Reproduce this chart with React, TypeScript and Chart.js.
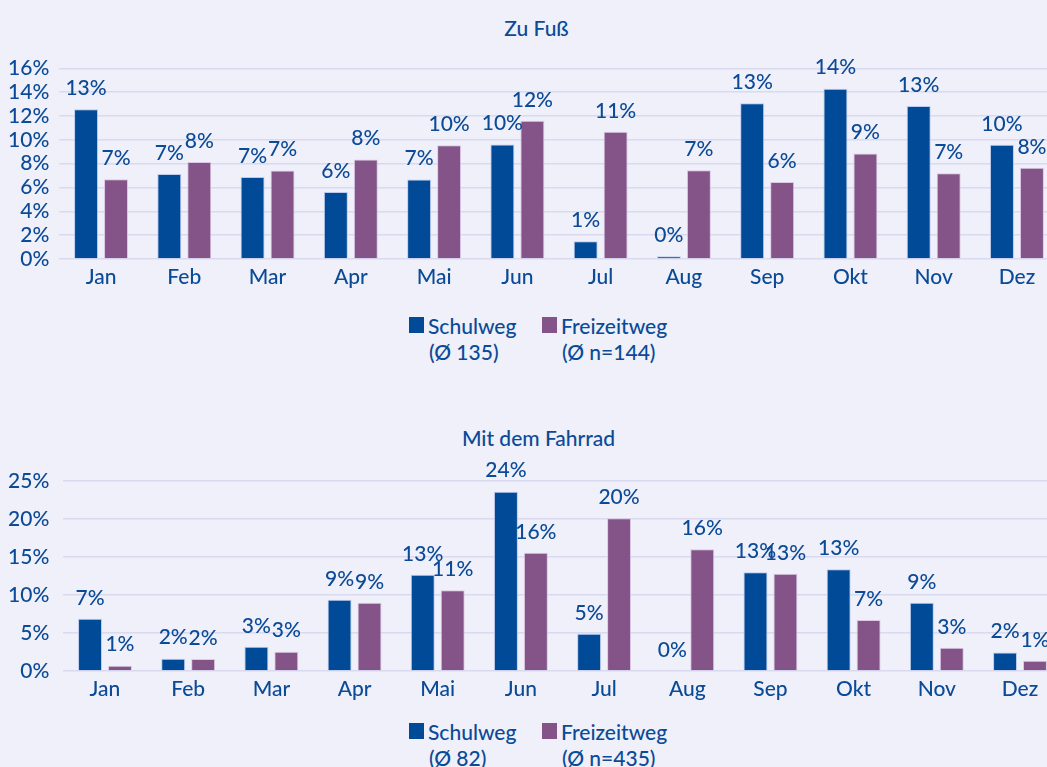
import React, { useEffect, useRef } from 'react';
import { Chart, registerables } from 'chart.js';

Chart.register(...registerables);

// ---------- data ----------
const months = ['Jan', 'Feb', 'Mar', 'Apr', 'Mai', 'Jun', 'Jul', 'Aug', 'Sep', 'Okt', 'Nov', 'Dez'];

const fussSchulweg = [12.57, 7.14, 6.89, 5.63, 6.67, 9.61, 1.49, 0.23, 13.06, 14.29, 12.83, 9.58];
const fussFreizeitweg = [6.7, 8.13, 7.43, 8.35, 9.55, 11.6, 10.67, 7.45, 6.45, 8.86, 7.2, 7.65];

const radSchulweg = [6.87, 1.62, 3.19, 9.37, 12.65, 23.6, 4.9, 0, 13.0, 13.4, 8.97, 2.45];
const radFreizeitweg = [0.7, 1.58, 2.54, 8.97, 10.64, 15.55, 20.1, 16.03, 12.79, 6.7, 3.06, 1.35];

const seriesNames = ['Schulweg', 'Freizeitweg'];
const fussLegendSub = ['(Ø 135)', '(Ø n=144)'];
const radLegendSub = ['(Ø 82)', '(Ø n=435)'];

// ---------- style ----------
const BG = '#eff0f9';
const TEXT = '#0b4a97';
const BLUE = '#004a98';
const PURPLE = '#845489';
const GRID = '#d9daef';
const FONT = 'Lato, "Open Sans", sans-serif';

const valueLabels = {
  id: 'valueLabels',
  afterDatasetsDraw(chart: any) {
    const ctx = chart.ctx;
    ctx.save();
    ctx.font = `500 21px ${FONT}`;
    ctx.fillStyle = TEXT;
    ctx.textAlign = 'center';
    ctx.textBaseline = 'middle';
    chart.data.datasets.forEach((ds: any, i: number) => {
      const meta = chart.getDatasetMeta(i);
      meta.data.forEach((el: any, j: number) => {
        const v = ds.data[j];
        ctx.fillText(Math.round(v) + '%', el.x, el.y - 21);
      });
    });
    ctx.restore();
  },
};

type PanelProps = {
  top: number;
  width: number;
  height: number;
  padTop: number;
  padRight: number;
  axisW: number;
  tickPad: number;
  a: number[];
  b: number[];
  max: number;
  step: number;
};

function Panel(p: PanelProps) {
  const ref = useRef<HTMLCanvasElement>(null);
  useEffect(() => {
    const chart = new Chart(ref.current as HTMLCanvasElement, {
      type: 'bar',
      data: {
        labels: months,
        datasets: [
          {
            label: seriesNames[0],
            data: p.a,
            backgroundColor: BLUE,
            borderColor: 'rgba(170,190,235,0.75)',
            borderWidth: 1,
            categoryPercentage: 0.72,
            barPercentage: 0.8,
          },
          {
            label: seriesNames[1],
            data: p.b,
            backgroundColor: PURPLE,
            borderColor: 'rgba(215,185,220,0.75)',
            borderWidth: 1,
            categoryPercentage: 0.72,
            barPercentage: 0.8,
          },
        ],
      },
      options: {
        animation: false,
        responsive: false,
        devicePixelRatio: 1,
        layout: { padding: { top: p.padTop, right: p.padRight, left: 0, bottom: 0 } },
        plugins: {
          legend: { display: false },
          title: { display: false },
          tooltip: { enabled: false },
        },
        scales: {
          x: {
            grid: { display: false, drawTicks: false },
            border: { display: false },
            ticks: { color: TEXT, font: { family: FONT, size: 21, weight: '500' }, padding: 6 },
            afterFit: (s: any) => {
              s.height = 40;
            },
          },
          y: {
            min: 0,
            max: p.max,
            grid: { color: GRID, lineWidth: 1.5, drawTicks: false },
            border: { display: false },
            ticks: {
              stepSize: p.step,
              autoSkip: false,
              color: TEXT,
              font: { family: FONT, size: 21, weight: '500' },
              padding: p.tickPad,
              callback: (v: any) => v + '%',
            },
            afterFit: (s: any) => {
              s.width = p.axisW;
            },
          },
        },
      },
      plugins: [valueLabels],
    });
    return () => chart.destroy();
  }, []);
  return (
    <canvas
      ref={ref}
      width={p.width}
      height={p.height}
      style={{ position: 'absolute', left: 0, top: p.top, width: p.width, height: p.height }}
    />
  );
}

function Title({ text, x, y }: { text: string; x: number; y: number }) {
  return (
    <div
      style={{
        position: 'absolute',
        left: x,
        top: y,
        transform: 'translate(-50%, -50%)',
        whiteSpace: 'nowrap',
        lineHeight: 1,
        fontFamily: FONT,
        fontSize: 21,
        fontWeight: 500,
        color: TEXT,
      }}
    >
      {text}
    </div>
  );
}

function Legend({ y, subs }: { y: number; subs: string[] }) {
  const items = [
    { color: BLUE, box: 408.5, text: 428, name: seriesNames[0], sub: subs[0] },
    { color: PURPLE, box: 541.5, text: 561, name: seriesNames[1], sub: subs[1] },
  ];
  const txt = (t: string, x: number, cy: number) => (
    <div
      style={{
        position: 'absolute',
        left: x,
        top: cy,
        transform: 'translateY(-50%)',
        whiteSpace: 'nowrap',
        lineHeight: 1,
        fontFamily: FONT,
        fontSize: 21,
        fontWeight: 500,
        color: TEXT,
      }}
    >
      {t}
    </div>
  );
  return (
    <>
      {items.map((it, i) => (
        <React.Fragment key={i}>
          <div
            style={{
              position: 'absolute',
              left: it.box,
              top: y - 8,
              width: 15.5,
              height: 15.5,
              background: it.color,
            }}
          />
          {txt(it.name, it.text, y)}
          {txt(it.sub, it.text + 1, y + 25.5)}
        </React.Fragment>
      ))}
    </>
  );
}

export default function App() {
  return (
    <div
      style={{
        position: 'fixed',
        left: 0,
        top: 0,
        width: 1047,
        height: 767,
        overflow: 'hidden',
        background: BG,
      }}
    >
      <Title text="Zu Fuß" x={536.5} y={27} />
      <Panel
        top={0}
        width={1075}
        height={299}
        padTop={68.3}
        padRight={16.4}
        axisW={59.4}
        tickPad={10}
        a={fussSchulweg}
        b={fussFreizeitweg}
        max={16}
        step={2}
      />
      <Legend y={325} subs={fussLegendSub} />

      <Title text="Mit dem Fahrrad" x={538.5} y={437} />
      <Panel
        top={420}
        width={1078}
        height={291}
        padTop={61}
        padRight={16.4}
        axisW={63.4}
        tickPad={14}
        a={radSchulweg}
        b={radFreizeitweg}
        max={25}
        step={5}
      />
      <Legend y={731} subs={radLegendSub} />
    </div>
  );
}
